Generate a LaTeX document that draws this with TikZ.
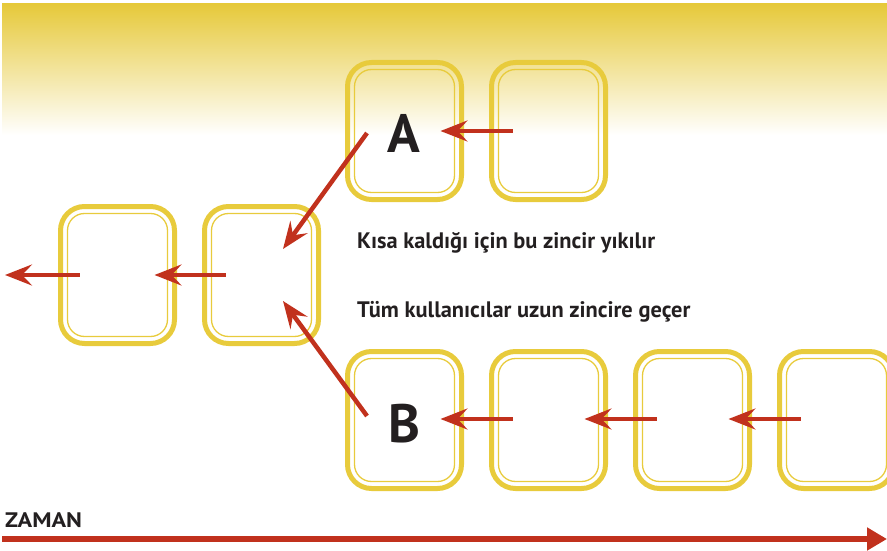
\documentclass[tikz,border=0pt]{standalone}
\usepackage{fontspec}
\setmainfont{PT Sans}
\usetikzlibrary{arrows.meta,calc}
\definecolor{chainyellow}{HTML}{E8CB3C}
\definecolor{bandyellow}{HTML}{E6C93A}
\definecolor{chainred}{HTML}{C1311D}
\definecolor{inkdark}{HTML}{231F20}
\begin{document}
\begin{tikzpicture}[x=1pt,y=-1pt,
  blockbox/.style={draw=chainyellow, line width=5pt, rounded corners=24pt,
    minimum width=114pt, minimum height=137pt, inner sep=0pt},
  blockinner/.style={draw=chainyellow, line width=1.3pt, rounded corners=17pt,
    minimum width=100pt, minimum height=123pt, inner sep=0pt},
  link/.style={chainred, line width=4.5pt,
    -{Stealth[length=27pt,width=21pt,inset=10pt]}},
  timeline/.style={chainred, line width=5.5pt,
    -{Triangle[length=20pt,width=22pt]}},
  letter/.style={font=\bfseries\fontsize{54}{54}\selectfont, text=inkdark,
    anchor=base, inner sep=0pt},
  caption/.style={font=\bfseries\fontsize{22.4}{24}\selectfont, text=inkdark,
    anchor=base west, inner sep=0pt},
]
\useasboundingbox (0,0) rectangle (887,551);
% yellow band fading out at the top
\shade[top color=bandyellow, bottom color=white] (2,4) rectangle (887,135);

% chain blocks
\foreach \n/\x/\y in {ta/404.5/131, tb/548.5/131,
                      ma/117.5/275, mb/261.5/275,
                      ba/404.5/420, bb/548.5/420, bc/692.5/420, bd/836.5/420}{
  \node[blockbox] (\n) at (\x,\y) {};
  \node[blockinner] at (\n.center) {};
}

% letters
\node[letter] (la) at (404,153) {A};
\node[letter] (lb) at (404,442) {B};

% captions
\node[caption] (c1) at (357,248) {Kısa kaldığı için bu zincir yıkılır};
\node[caption] (c2) at (357,317) {Tüm kullanıcılar uzun zincire geçer};

% links between blocks
\draw[link] ($(tb.west)+(23.5,0)$) -- ($(ta.east)+(-23.5,0)$);
\draw[link] ($(mb.west)+(23.5,0)$) -- ($(ma.east)+(-22.5,0)$);
\coordinate (mout) at (5,275);
\draw[link] ($(ma.west)+(21.5,0)$) -- (mout);
\draw[link] ($(bb.west)+(23.5,-1)$) -- ($(ba.east)+(-23.5,-1)$);
\draw[link] ($(bc.west)+(23.5,-1)$) -- ($(bb.east)+(-23.5,-1)$);
\draw[link] ($(bd.west)+(23.5,-1)$) -- ($(bc.east)+(-23.5,-1)$);

% switch from the short chain to the long one
\coordinate (sa) at (367,133);
\coordinate (ea) at (283,249);
\coordinate (sb) at (367,416);
\coordinate (eb) at (283,301);
\draw[link] (sa) -- (ea);
\draw[link] (sb) -- (eb);

% time axis
\node[font=\bfseries\fontsize{21}{22}\selectfont, text=inkdark, anchor=base west,
  inner sep=0pt, xscale=1.15] (zaman) at (5,527) {ZAMAN};
\coordinate (t0) at (2,539);
\coordinate (t1) at (887,539);
\draw[timeline] (t0) -- (t1);
\end{tikzpicture}
\end{document}
